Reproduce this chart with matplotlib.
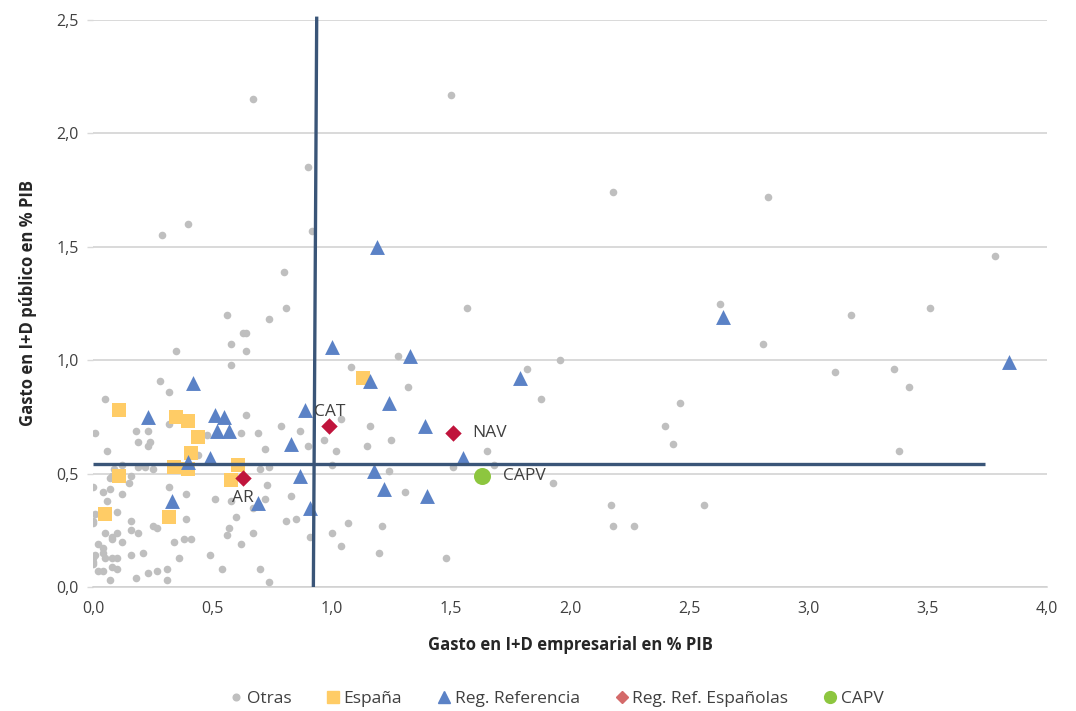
import matplotlib
matplotlib.use("Agg")
import matplotlib.pyplot as plt
from matplotlib.lines import Line2D

plt.rcParams['font.family'] = ['Open Sans', 'DejaVu Sans']

# ---------------- data ----------------
otras_x = [0.63, 0.64, 0.58, 0.64, 0.35, 0.58, 0.28, 0.32, 0.05, 0.64,
           0.79, 0.87, 0.01, 0.18, 0.23, 0.19, 0.24, 0.23, 0.32, 0.48,
           0.62, 0.69, 0.97, 0.90, 0.72, 0.06, 0.44, 0.12, 0.19, 0.22,
           0.25, 0.09, 0.70, 0.74, 0.08, 0.07, 0.16, 0.15, 0.00, 0.04,
           0.07, 0.12, 0.32, 0.73, 0.39, 0.06, 0.51, 0.58, 0.72, 0.83,
           0.67, 0.10, 0.01, 0.60, 0.39, 0.81, 0.85, 0.00, 0.00, 0.16,
           0.25, 0.27, 0.16, 0.19, 0.57, 0.56, 0.67, 0.05, 0.08, 0.08,
           0.10, 0.12, 0.34, 0.38, 0.41, 0.62, 0.91, 0.02, 0.04, 0.04,
           0.21, 0.16, 0.49, 0.00, 0.01, 0.05, 0.08, 0.10, 0.36, 0.00,
           0.00, 0.08, 0.10, 0.02, 0.04, 0.54, 0.70, 0.31, 0.27, 0.23,
           0.18, 0.07, 0.31, 0.74, 1.28, 1.08, 1.32, 1.82, 1.96, 1.88,
           1.04, 1.16, 1.25, 1.15, 1.02, 1.65, 1.00, 1.51, 1.68, 1.24,
           1.93, 1.31, 1.07, 1.21, 1.00, 1.04, 1.20, 1.48, 0.67, 1.50,
           0.90, 0.40, 0.29, 0.92, 0.80, 1.57, 0.56, 0.81, 0.74, 2.18,
           2.83, 3.78, 2.63, 3.18, 3.51, 2.81, 3.11, 3.36, 3.42, 2.46,
           2.40, 2.43, 3.38, 2.17, 2.56, 2.18, 2.27]
otras_y = [1.12, 1.12, 1.07, 1.04, 1.04, 0.98, 0.91, 0.86, 0.83, 0.76,
           0.71, 0.69, 0.68, 0.69, 0.69, 0.64, 0.64, 0.62, 0.72, 0.67,
           0.68, 0.68, 0.65, 0.62, 0.61, 0.60, 0.58, 0.54, 0.53, 0.53,
           0.52, 0.52, 0.52, 0.53, 0.49, 0.48, 0.49, 0.46, 0.44, 0.42,
           0.43, 0.41, 0.44, 0.45, 0.41, 0.38, 0.39, 0.38, 0.39, 0.40,
           0.35, 0.33, 0.32, 0.31, 0.30, 0.29, 0.30, 0.29, 0.28, 0.29,
           0.27, 0.26, 0.25, 0.24, 0.26, 0.23, 0.24, 0.24, 0.22, 0.21,
           0.24, 0.20, 0.20, 0.21, 0.21, 0.19, 0.22, 0.19, 0.17, 0.15,
           0.15, 0.14, 0.14, 0.13, 0.14, 0.13, 0.13, 0.13, 0.13, 0.11,
           0.10, 0.09, 0.08, 0.07, 0.07, 0.08, 0.08, 0.08, 0.07, 0.06,
           0.04, 0.03, 0.03, 0.02, 1.02, 0.97, 0.88, 0.96, 1.00, 0.83,
           0.74, 0.71, 0.65, 0.62, 0.60, 0.60, 0.54, 0.53, 0.54, 0.51,
           0.46, 0.42, 0.28, 0.27, 0.24, 0.18, 0.15, 0.13, 2.15, 2.17,
           1.85, 1.60, 1.55, 1.57, 1.39, 1.23, 1.20, 1.23, 1.18, 1.74,
           1.72, 1.46, 1.25, 1.20, 1.23, 1.07, 0.95, 0.96, 0.88, 0.81,
           0.71, 0.63, 0.60, 0.36, 0.36, 0.27, 0.27]

espana_x = [0.11, 0.35, 0.40, 0.44, 0.41, 0.34, 0.40, 0.61, 0.11, 0.58,
            0.05, 0.32, 1.13]
espana_y = [0.78, 0.75, 0.73, 0.66, 0.59, 0.53, 0.52, 0.54, 0.49, 0.47,
            0.32, 0.31, 0.92]

ref_x = [0.42, 0.23, 0.51, 0.55, 0.52, 0.57, 0.89, 0.83, 0.40, 0.49,
         0.87, 0.33, 0.69, 0.91, 1.00, 1.33, 1.16, 1.24, 1.39, 1.55,
         1.18, 1.22, 1.40, 1.79, 1.19, 2.64, 3.84]
ref_y = [0.90, 0.75, 0.76, 0.75, 0.69, 0.69, 0.78, 0.63, 0.55, 0.57,
         0.49, 0.38, 0.37, 0.35, 1.06, 1.02, 0.91, 0.81, 0.71, 0.57,
         0.51, 0.43, 0.40, 0.92, 1.50, 1.19, 0.99]

esp_ref_labels = ["CAT", "NAV", "AR"]
esp_ref_x = [0.99, 1.51, 0.63]
esp_ref_y = [0.71, 0.68, 0.48]

capv_label = "CAPV"
capv_x = [1.63]
capv_y = [0.49]

# reference (average) lines
vline_x = [0.924, 0.938]
vline_y = [0.0, 2.515]
hline_x = [0.0, 3.74]
hline_y = [0.542, 0.542]

x_ticks = [0.0, 0.5, 1.0, 1.5, 2.0, 2.5, 3.0, 3.5, 4.0]
y_ticks = [0.0, 0.5, 1.0, 1.5, 2.0, 2.5]

# ---------------- styles ----------------
c_otras = "#bfbfbf"
c_esp = "#ffcc66"
c_ref = "#5b82c6"
c_espref = "#c0143c"
c_espref_leg = "#d46a6a"
c_capv = "#8dc63f"
c_line = "#3a5578"
c_text = "#404040"

fig = plt.figure(figsize=(10.76, 7.11), dpi=100)
ax = fig.add_axes([93/1076, 124/711, (1047-93)/1076, (587-20)/711])

ax.scatter(otras_x, otras_y, s=30, color=c_otras, linewidths=0, zorder=3)
ax.scatter(espana_x, espana_y, s=95, marker="s", color=c_esp, linewidths=0, zorder=4)
ax.scatter(ref_x, ref_y, s=115, marker="^", color=c_ref, linewidths=0, zorder=5)

ax.plot(vline_x, vline_y, color=c_line, lw=2.4, zorder=6, clip_on=False, solid_capstyle='butt')
ax.plot(hline_x, hline_y, color=c_line, lw=2.4, zorder=6, solid_capstyle='butt')

ax.scatter(esp_ref_x, esp_ref_y, s=70, marker="D", color=c_espref, linewidths=0, zorder=7)
ax.scatter(capv_x, capv_y, s=150, marker="o", color=c_capv, linewidths=0, zorder=7)

offsets = {"CAT": (-11, 10, "left", "center"),
           "NAV": (14, 0, "left", "center"),
           "AR": (-8, -14, "left", "center")}
for lab, xv, yv in zip(esp_ref_labels, esp_ref_x, esp_ref_y):
    dx, dy, ha, va = offsets[lab]
    ax.annotate(lab, (xv, yv), xytext=(dx, dy), textcoords="offset points",
                ha=ha, va=va, fontsize=12.5, color=c_text, zorder=8)
ax.annotate(capv_label, (capv_x[0], capv_y[0]), xytext=(15, 0), textcoords="offset points",
            ha="left", va="center", fontsize=12.5, color=c_text, zorder=8)

ax.set_xlim(0, 4.0)
ax.set_ylim(0, 2.5)
ax.set_xticks(x_ticks)
ax.set_yticks(y_ticks)
ax.set_xticklabels([f"{v:.1f}".replace(".", ",") for v in x_ticks])
ax.set_yticklabels([f"{v:.1f}".replace(".", ",") for v in y_ticks])
ax.tick_params(axis="x", length=0, pad=10, labelsize=11.5, labelcolor=c_text)
ax.tick_params(axis="y", length=4, width=1, color="#d9d9d9", pad=6, labelsize=11.5, labelcolor=c_text)

ax.grid(axis="y", color="#d0d0d0", lw=1.1, zorder=0)
ax.set_axisbelow(True)
for side in ["left", "right", "top"]:
    ax.spines[side].set_visible(False)
ax.spines["bottom"].set_color("#d0d0d0")
ax.spines["bottom"].set_linewidth(1.1)

ax.set_xlabel("Gasto en I+D empresarial en % PIB", fontsize=12, fontweight="bold",
              color="#262626", labelpad=14)
ax.set_ylabel("Gasto en I+D público en % PIB", fontsize=12, fontweight="bold",
              color="#262626", labelpad=14)

handles = [
    Line2D([], [], ls="none", marker="o", ms=4.8, color=c_otras),
    Line2D([], [], ls="none", marker="s", ms=8.5, color=c_esp),
    Line2D([], [], ls="none", marker="^", ms=8.5, color=c_ref),
    Line2D([], [], ls="none", marker="D", ms=6, color=c_espref_leg),
    Line2D([], [], ls="none", marker="o", ms=8.5, color=c_capv),
]
labels = ["Otras", "España", "Reg. Referencia", "Reg. Ref. Españolas", "CAPV"]
fig.legend(handles, labels, loc="center", bbox_to_anchor=(0.517, 12/711), ncol=5,
           frameon=False, fontsize=12.5, handlelength=0.8, handletextpad=0.2,
           columnspacing=2.02, labelcolor=c_text)

fig.savefig("out.png", dpi=100)
